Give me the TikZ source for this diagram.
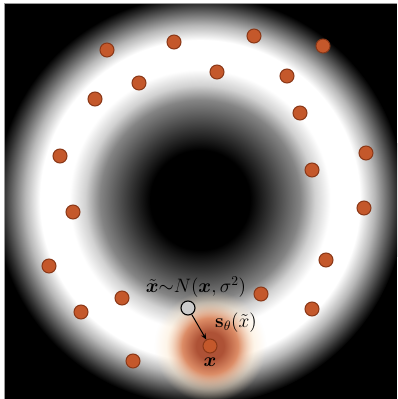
\documentclass[tikz,border=0pt]{standalone}
\usepackage{amsmath}
\usepackage{bm}
\usetikzlibrary{fadings,arrows.meta}
\definecolor{dotfill}{HTML}{C4582B}
\definecolor{dotedge}{HTML}{8A3818}
\definecolor{glowin}{HTML}{AE5236}
\definecolor{glowmid}{HTML}{DC8C66}
\definecolor{glowout}{HTML}{FCE8CC}
\definecolor{framegray}{HTML}{9A9A9A}
\pgfdeclareradialshading{ringshade}{\pgfpoint{0bp}{0bp}}{%
color(0bp)=(black); color(6.1bp)=(black); color(8.5bp)=(white!20!black);
color(12.2bp)=(white!52!black); color(14bp)=(white!82!black); color(15.9bp)=(white);
color(19.5bp)=(white); color(21.3bp)=(white!72!black); color(22.9bp)=(white!40!black);
color(24bp)=(white!18!black); color(25bp)=(black); color(50bp)=(black)}
\pgfdeclareradialshading{glowshade}{\pgfpoint{0bp}{0bp}}{%
color(0bp)=(glowin); color(6bp)=(glowin); color(12bp)=(glowmid); color(19bp)=(glowout); color(50bp)=(glowout)}
\pgfdeclareradialshading{glowmask}{\pgfpoint{0bp}{0bp}}{%
color(0bp)=(white); color(12bp)=(white); color(24bp)=(black); color(50bp)=(black)}
\pgfdeclarefading{glowfade}{\pgfuseshading{glowmask}}
\tikzset{
  sample/.style={circle, fill=dotfill, draw=dotedge, line width=1pt, minimum size=14pt, inner sep=0pt},
  noisy/.style={circle, fill=black!20, draw=black, line width=1.1pt, minimum size=14pt, inner sep=0pt},
  lbl/.style={inner sep=0pt, font=\Large, scale=1.35},
  score/.style={-{Stealth[length=6pt,width=5pt]}, line width=1pt, black}
}
\begin{document}
\begin{tikzpicture}[x=1pt,y=-1pt]
\useasboundingbox (0,0) rectangle (397,399);
\fill[white] (0,0) rectangle (397,399);
\fill[black] (4,3) rectangle (397,399);
\begin{scope}
\clip (4,3) rectangle (397,399);
\shade[shading=ringshade] (200,200) circle (205pt);
\shade[shading=glowshade, path fading=glowfade] (210,346) circle (58pt);
\end{scope}
\draw[framegray, line width=0.8pt] (4,399) -- (4,3) -- (397,3);
% samples
\node[sample] (p1) at (107,50) {};
\node[sample] (p2) at (174,42) {};
\node[sample] (p3) at (254,36) {};
\node[sample] (p4) at (323,46) {};
\node[sample] (p5) at (139,83) {};
\node[sample] (p6) at (217,72) {};
\node[sample] (p7) at (287,76) {};
\node[sample] (p8) at (95,99) {};
\node[sample] (p9) at (300,113) {};
\node[sample] (p10) at (60,156) {};
\node[sample] (p11) at (366,153) {};
\node[sample] (p12) at (312,170) {};
\node[sample] (p13) at (73,212) {};
\node[sample] (p14) at (364,208) {};
\node[sample] (p15) at (326,260) {};
\node[sample] (p16) at (49,266) {};
\node[sample] (p17) at (122,298) {};
\node[sample] (p18) at (261,294) {};
\node[sample] (p19) at (81,312) {};
\node[sample] (p20) at (312,309) {};
\node[sample] (p21) at (133,361) {};
\node[sample] (x) at (210,346) {};
\node[noisy] (xt) at (188,308) {};
\draw[score] (xt) -- (x);
\node[lbl] (lnoise) at (196,287) {$\tilde{\bm{x}}{\sim}N(\bm{x},\sigma^2)$};
\node[lbl] (lscore) at (236,323) {$\mathbf{s}_\theta(\tilde{x})$};
\node[lbl] (lx) at (210,362) {$\bm{x}$};
\end{tikzpicture}
\end{document}
